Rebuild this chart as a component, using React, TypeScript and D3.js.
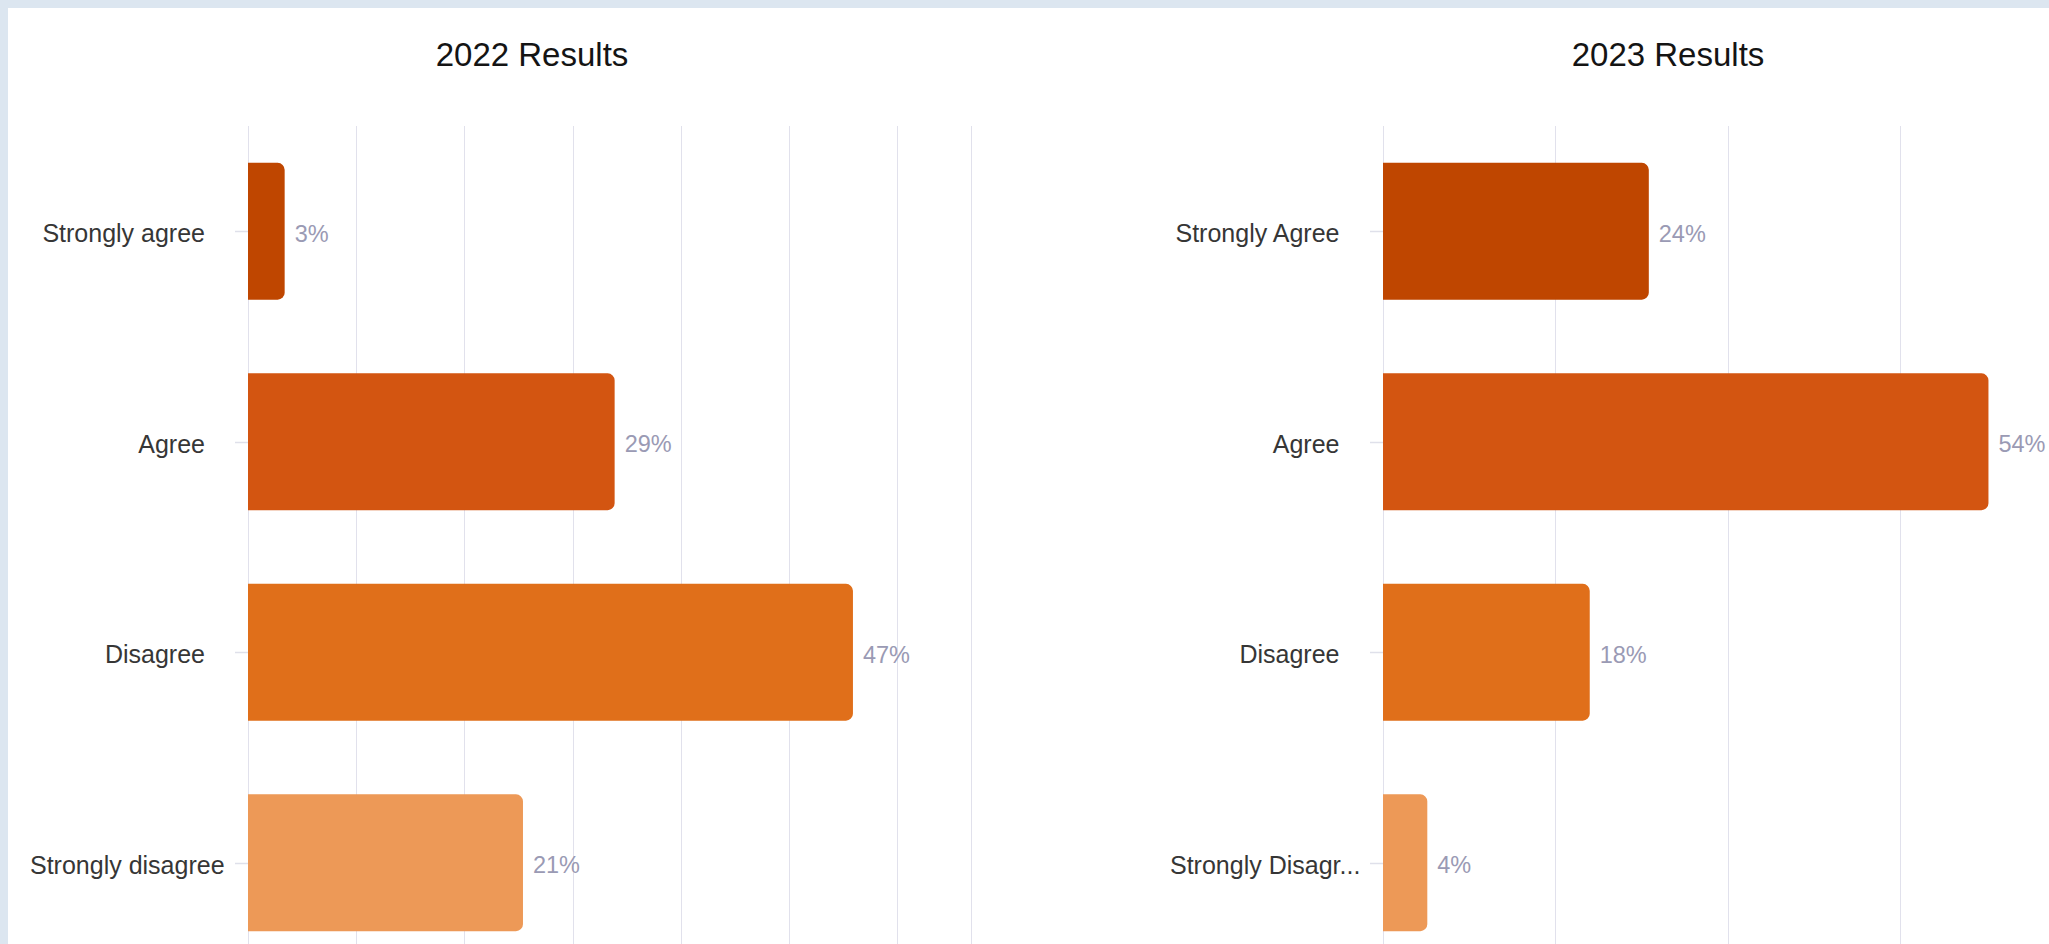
import React, { useEffect, useRef } from "react";
import * as d3 from "d3";

// ---- data ----
const titles = ["2022 Results", "2023 Results"];
const categories2022 = ["Strongly agree", "Agree", "Disagree", "Strongly disagree"];
const counts2022 = [2, 20, 33, 15];
const categories2023 = ["Strongly Agree", "Agree", "Disagree", "Strongly Disagr..."];
const counts2023 = [18, 41, 14, 3];
const barColors = ["#bf4600", "#d35511", "#e06f1a", "#ed9957"];

// ---- layout ----
const W = 2049;
const H = 944;
const panels = [
  {
    title: titles[0], cats: categories2022, counts: counts2022,
    titleX: 532, axisX: 248, endX: 971, domainMax: 39.44, gridStep: 5.903,
    labelLeft: 30, labelRight: 205, drawEnd: true,
  },
  {
    title: titles[1], cats: categories2023, counts: counts2023,
    titleX: 1668, axisX: 1383, endX: 2195.2, domainMax: 55, gridStep: 11.68,
    labelLeft: 1170, labelRight: 1339.5, drawEnd: false,
  },
];

const FONT = "'Liberation Sans', Arial, sans-serif";

export default function App() {
  const ref = useRef<SVGSVGElement | null>(null);

  useEffect(() => {
    const svg = d3.select(ref.current);
    svg.selectAll("*").remove();

    svg.append("rect").attr("x", 0).attr("y", 0).attr("width", W).attr("height", H).attr("fill", "#dce6f0");
    svg.append("rect").attr("x", 8).attr("y", 8).attr("width", W - 8).attr("height", H - 8).attr("fill", "#ffffff");

    panels.forEach((p) => {
      const g = svg.append("g");
      const x = d3.scaleLinear().domain([0, p.domainMax]).range([p.axisX, p.endX]);
      const y = d3
        .scaleBand<number>()
        .domain(d3.range(p.cats.length))
        .range([126, 968])
        .paddingInner(0.35)
        .paddingOuter(0.175);
      const total = d3.sum(p.counts);

      // title
      g.append("text")
        .attr("x", p.titleX)
        .attr("y", 66)
        .attr("text-anchor", "middle")
        .attr("font-family", FONT)
        .attr("font-size", 33)
        .attr("fill", "#141414")
        .text(p.title);

      // gridlines
      const grid = d3.range(0, p.domainMax, p.gridStep);
      if (p.drawEnd) grid.push(p.domainMax);
      g.selectAll("line.grid")
        .data(grid)
        .enter()
        .append("line")
        .attr("x1", (d) => Math.round(x(d)) + 0.5)
        .attr("x2", (d) => Math.round(x(d)) + 0.5)
        .attr("y1", 126)
        .attr("y2", H)
        .attr("stroke", "#e1e1ec")
        .attr("stroke-width", 1);

      // ticks
      g.selectAll("line.tick")
        .data(p.cats.map((_, i) => i))
        .enter()
        .append("line")
        .attr("x1", p.axisX - 13)
        .attr("x2", p.axisX)
        .attr("y1", (i) => Math.round(y(i)! + y.bandwidth() / 2) + 0.5)
        .attr("y2", (i) => Math.round(y(i)! + y.bandwidth() / 2) + 0.5)
        .attr("stroke", "#dfe0ea")
        .attr("stroke-width", 1.5);

      // bars
      const r = 7;
      g.selectAll("path.bar")
        .data(p.counts.map((c, i) => ({ c, i })))
        .enter()
        .append("path")
        .attr("fill", (d) => barColors[d.i])
        .attr("d", (d) => {
          const x0 = x(0);
          const x1 = x(d.c);
          const y0 = y(d.i)!;
          const y1 = y0 + y.bandwidth();
          const rr = Math.min(r, (x1 - x0) / 2);
          return `M${x0},${y0}H${x1 - rr}A${rr},${rr} 0 0 1 ${x1},${y0 + rr}V${y1 - rr}A${rr},${rr} 0 0 1 ${x1 - rr},${y1}H${x0}Z`;
        });

      // value labels
      g.selectAll("text.val")
        .data(p.counts.map((c, i) => ({ c, i })))
        .enter()
        .append("text")
        .attr("x", (d) => x(d.c) + 10)
        .attr("y", (d) => y(d.i)! + y.bandwidth() / 2 + 10.5)
        .attr("font-family", FONT)
        .attr("font-size", 23.5)
        .attr("fill", "#9a9ab4")
        .text((d) => `${Math.round((100 * d.c) / total)}%`);

      // category labels
      const boxW = p.labelRight - p.labelLeft;
      g.selectAll("text.cat")
        .data(p.cats.map((c, i) => ({ c, i })))
        .enter()
        .append("text")
        .attr("y", (d) => y(d.i)! + y.bandwidth() / 2 + 11)
        .attr("font-family", FONT)
        .attr("font-size", 25)
        .attr("fill", "#363636")
        .text((d) => d.c)
        .each(function () {
          const t = this as SVGTextElement;
          const w = t.getComputedTextLength();
          if (w > boxW) {
            d3.select(t).attr("x", p.labelLeft).attr("text-anchor", "start");
          } else {
            d3.select(t).attr("x", p.labelRight).attr("text-anchor", "end");
          }
        });
    });
  }, []);

  return (
    <div style={{ position: "fixed", left: 0, top: 0, width: W, height: H, overflow: "hidden" }}>
      <svg ref={ref} width={W} height={H} style={{ display: "block" }} />
    </div>
  );
}
